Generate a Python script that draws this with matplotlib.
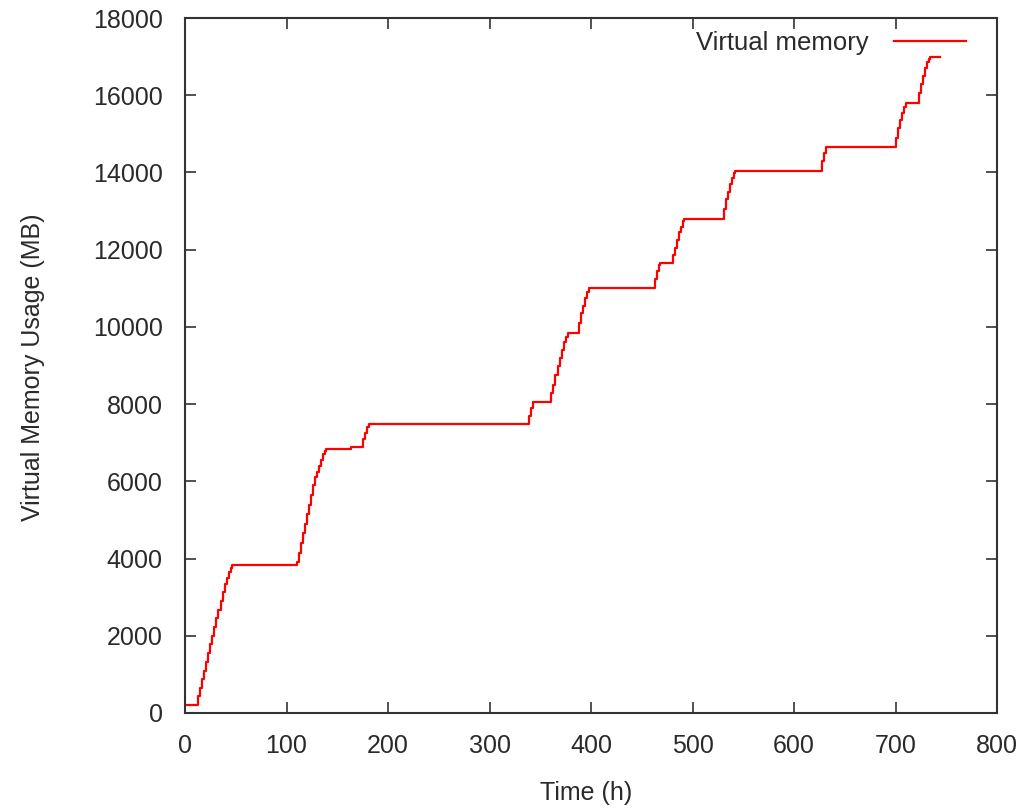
import matplotlib
matplotlib.use("Agg")
import matplotlib.pyplot as plt

time_h = [0, 13, 15, 17, 19, 21, 23, 25, 27, 29, 31, 33, 35, 37, 39, 41, 43, 45, 46,
          110, 112, 114, 116, 118, 120, 122, 124, 126, 128, 130, 132, 134, 136, 138, 139,
          164, 175, 177, 179, 181,
          339, 341, 343, 361, 363, 365, 367, 369, 371, 373, 375, 377,
          388, 390, 392, 394, 396, 398,
          463, 465, 467, 468, 481, 483, 485, 487, 489, 491, 492,
          531, 533, 535, 537, 539, 541, 542, 628, 630, 632,
          700, 702, 704, 706, 708, 710, 723, 725, 727, 729, 731, 733, 734, 744]
vmem_mb = [200, 430, 650, 880, 1100, 1330, 1560, 1780, 2000, 2230, 2450, 2680, 2900, 3130, 3350, 3500, 3650, 3750, 3830,
           3900, 4150, 4400, 4650, 4900, 5150, 5400, 5650, 5900, 6100, 6250, 6400, 6550, 6700, 6780, 6830,
           6880, 7100, 7250, 7400, 7480,
           7700, 7900, 8050, 8300, 8500, 8750, 9000, 9200, 9400, 9600, 9750, 9850,
           10100, 10350, 10550, 10750, 10900, 11000,
           11250, 11450, 11600, 11650, 11850, 12050, 12250, 12450, 12600, 12750, 12800,
           13050, 13300, 13500, 13700, 13850, 13980, 14030, 14300, 14500, 14650,
           14900, 15150, 15350, 15550, 15700, 15800, 16050, 16300, 16500, 16700, 16850, 16950, 17000, 17000]
assert len(time_h) == len(vmem_mb)

x_ticks = [0, 100, 200, 300, 400, 500, 600, 700, 800]
y_ticks = [0, 2000, 4000, 6000, 8000, 10000, 12000, 14000, 16000, 18000]

plt.rcParams['font.family'] = ['Liberation Sans', 'DejaVu Sans']
txt_color = '#2a2a2a'

fig = plt.figure(figsize=(10.29, 8.09), dpi=100)
ax = fig.add_axes([185/1029, 1-713/809, (997-185)/1029, (713-18)/809])

ax.plot(time_h, vmem_mb, drawstyle='steps-post', color='#ff0000', lw=1.6, label='Virtual memory')

ax.set_xlim(0, 800)
ax.set_ylim(0, 18000)
ax.set_xticks(x_ticks)
ax.set_yticks(y_ticks)
ax.tick_params(direction='in', length=8, width=1.2, top=True, right=True,
               labelsize=18, colors='#333333', labelcolor=txt_color)
ax.tick_params(axis='y', pad=16)
ax.tick_params(axis='x', pad=15)
for s in ax.spines.values():
    s.set_linewidth(1.5)
    s.set_color('#333333')

fig.text(586/1029, 1-793/809, 'Time (h)', fontsize=18, color=txt_color, ha='center', va='center')
fig.text(33/1029, 1-367/809, 'Virtual Memory Usage (MB)', fontsize=18, color=txt_color,
         ha='center', va='center', rotation=90)

leg = ax.legend(loc='upper right', frameon=False, fontsize=18.5, markerfirst=False,
                handlelength=2.8, borderaxespad=0.1, handletextpad=1.0,
                bbox_to_anchor=(0.978, 1.0))
for t in leg.get_texts():
    t.set_color(txt_color)

fig.savefig('out.png', dpi=100)
